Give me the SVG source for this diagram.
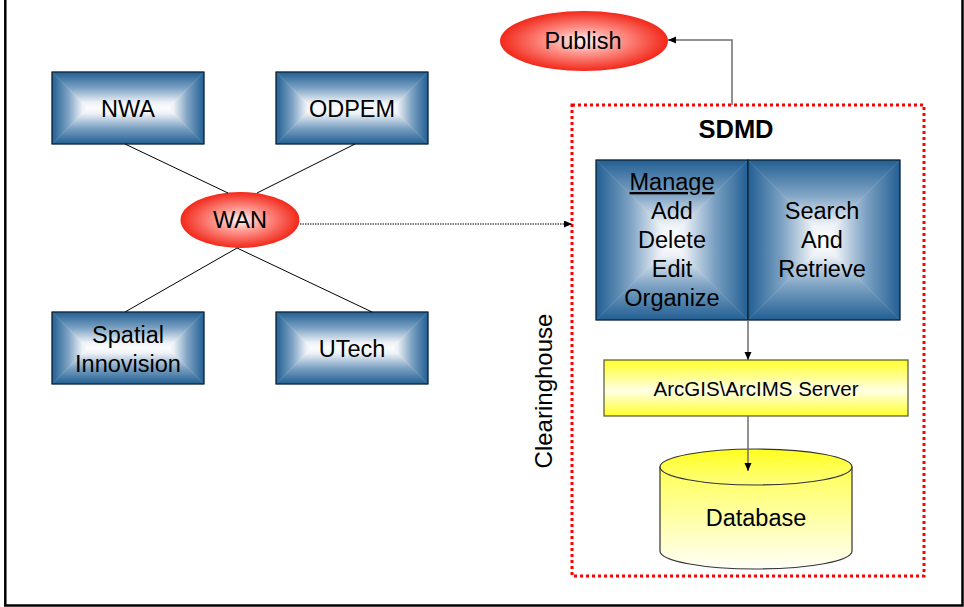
<svg xmlns="http://www.w3.org/2000/svg" width="964" height="607" viewBox="0 0 964 607">
<defs>
<linearGradient id="gT" x1="0" y1="0" x2="0" y2="1"><stop offset="0" stop-color="#225f93"/><stop offset="0.45" stop-color="#7da2c3"/><stop offset="0.85" stop-color="#eef2f7"/><stop offset="1" stop-color="#fbfcfd"/></linearGradient>
<linearGradient id="gB" x1="0" y1="1" x2="0" y2="0"><stop offset="0" stop-color="#225f93"/><stop offset="0.45" stop-color="#7da2c3"/><stop offset="0.85" stop-color="#eef2f7"/><stop offset="1" stop-color="#fbfcfd"/></linearGradient>
<linearGradient id="gL" x1="0" y1="0" x2="1" y2="0"><stop offset="0" stop-color="#225f93"/><stop offset="0.45" stop-color="#7da2c3"/><stop offset="0.85" stop-color="#eef2f7"/><stop offset="1" stop-color="#fbfcfd"/></linearGradient>
<linearGradient id="gR" x1="1" y1="0" x2="0" y2="0"><stop offset="0" stop-color="#225f93"/><stop offset="0.45" stop-color="#7da2c3"/><stop offset="0.85" stop-color="#eef2f7"/><stop offset="1" stop-color="#fbfcfd"/></linearGradient>
<radialGradient id="gRed" cx="0.5" cy="0.5" r="0.5"><stop offset="0" stop-color="#fff6f6"/><stop offset="0.4" stop-color="#ff9a92"/><stop offset="1" stop-color="#f2281a"/></radialGradient>
<linearGradient id="gYel" x1="0" y1="0" x2="0" y2="1"><stop offset="0" stop-color="#ffff2a"/><stop offset="0.55" stop-color="#ffffe6"/><stop offset="1" stop-color="#ffff2a"/></linearGradient>
<linearGradient id="gDbBody" x1="0" y1="0" x2="0" y2="1"><stop offset="0" stop-color="#ffff55"/><stop offset="1" stop-color="#fffff8"/></linearGradient>
<linearGradient id="gDbTop" x1="0" y1="0" x2="0" y2="1"><stop offset="0" stop-color="#ffff1e"/><stop offset="1" stop-color="#ffff80"/></linearGradient>
<marker id="arr" markerUnits="userSpaceOnUse" markerWidth="9" markerHeight="8" refX="8" refY="3.5" orient="auto"><path d="M0,0 L8,3.5 L0,7 z" fill="#000"/></marker>
</defs>
<style>
.pT{fill:url(#gT);stroke:url(#gT);stroke-width:0.4}
.pB{fill:url(#gB);stroke:url(#gB);stroke-width:0.4}
.pL{fill:url(#gL);stroke:url(#gL);stroke-width:0.4}
.pR{fill:url(#gR);stroke:url(#gR);stroke-width:0.4}
.ol{fill:none;stroke:#0d1e30;stroke-width:1.2}
.lbl{font-family:"Liberation Sans",Arial,sans-serif;font-size:23.5px;fill:#000;text-anchor:middle}
.ln{stroke:#000;stroke-width:1;fill:none}
.gl{stroke:#6e6e6e;stroke-width:1.5;fill:none}
</style>
<path d="M5.3,-5 V605.5 H962.5 V-5" fill="none" stroke="#000" stroke-width="2.5"/>

<g id="clearinghouse">
<rect x="572" y="105" width="352" height="471" fill="none" stroke="#ff0000" stroke-width="3" stroke-dasharray="3 3"/>
<text class="lbl" x="736" y="138" style="font-weight:bold;font-size:25.5px">SDMD</text>
<text class="lbl" transform="translate(552,391) rotate(-90)" style="font-size:24px">Clearinghouse</text>
</g>

<g id="nwa">
<polygon class="pT" points="52,72 204,72 168,108 88,108"/>
<polygon class="pB" points="52,144 204,144 168,108 88,108"/>
<polygon class="pL" points="52,72 88,108 52,144"/>
<polygon class="pR" points="204,72 168,108 204,144"/>
<rect class="ol" x="52" y="72" width="152" height="72"/>
<text class="lbl" x="128" y="117">NWA</text>
</g>

<g id="odpem">
<polygon class="pT" points="276,72 428,72 392,108 312,108"/>
<polygon class="pB" points="276,144 428,144 392,108 312,108"/>
<polygon class="pL" points="276,72 312,108 276,144"/>
<polygon class="pR" points="428,72 392,108 428,144"/>
<rect class="ol" x="276" y="72" width="152" height="72"/>
<text class="lbl" x="352" y="117">ODPEM</text>
</g>

<g id="spatial">
<polygon class="pT" points="52,312 204,312 168,348 88,348"/>
<polygon class="pB" points="52,384 204,384 168,348 88,348"/>
<polygon class="pL" points="52,312 88,348 52,384"/>
<polygon class="pR" points="204,312 168,348 204,384"/>
<rect class="ol" x="52" y="312" width="152" height="72"/>
<text class="lbl" x="128" y="343">Spatial</text>
<text class="lbl" x="128" y="372">Innovision</text>
</g>

<g id="utech">
<polygon class="pT" points="276,312 428,312 392,348 312,348"/>
<polygon class="pB" points="276,384 428,384 392,348 312,348"/>
<polygon class="pL" points="276,312 312,348 276,384"/>
<polygon class="pR" points="428,312 392,348 428,384"/>
<rect class="ol" x="276" y="312" width="152" height="72"/>
<text class="lbl" x="352" y="357">UTech</text>
</g>

<g id="wan">
<ellipse cx="240" cy="220" rx="59.5" ry="28" fill="url(#gRed)"/>
<text class="lbl" x="240" y="228">WAN</text>
</g>

<g id="publish">
<ellipse cx="584" cy="41" rx="84" ry="30" fill="url(#gRed)"/>
<text class="lbl" x="583" y="49">Publish</text>
</g>

<g id="manage">
<polygon class="pT" points="596,160 748,160 672,236"/>
<polygon class="pB" points="596,320 748,320 672,244"/>
<polygon class="pL" points="596,160 672,236 672,244 596,320"/>
<polygon class="pR" points="748,160 672,236 672,244 748,320"/>
<rect class="ol" x="596" y="160" width="152" height="160"/>
<text class="lbl" x="672" y="190" text-decoration="underline">Manage</text>
<text class="lbl" x="672" y="219">Add</text>
<text class="lbl" x="672" y="248">Delete</text>
<text class="lbl" x="672" y="277">Edit</text>
<text class="lbl" x="672" y="306">Organize</text>
</g>

<g id="search">
<polygon class="pT" points="748,160 900,160 824,236"/>
<polygon class="pB" points="748,320 900,320 824,244"/>
<polygon class="pL" points="748,160 824,236 824,244 748,320"/>
<polygon class="pR" points="900,160 824,236 824,244 900,320"/>
<rect class="ol" x="748" y="160" width="152" height="160"/>
<text class="lbl" x="822" y="219">Search</text>
<text class="lbl" x="822" y="248">And</text>
<text class="lbl" x="822" y="277">Retrieve</text>
</g>

<g id="server">
<rect x="604" y="360" width="304" height="56" fill="url(#gYel)" stroke="#555533" stroke-width="1.2"/>
<text class="lbl" x="756" y="396" style="font-size:20.5px">ArcGIS\ArcIMS Server</text>
</g>

<g id="database">
<path d="M660,467 V551 A96,18 0 0 0 852,551 V467 Z" fill="url(#gDbBody)" stroke="#333" stroke-width="1.2"/>
<ellipse cx="756" cy="467" rx="96" ry="18" fill="url(#gDbTop)" stroke="#333" stroke-width="1.2"/>
<text class="lbl" x="756" y="526">Database</text>
</g>

<g id="connectors">
<path class="ln" d="M125,144 L228,193"/>
<path class="ln" d="M355,144 L257,193"/>
<path class="ln" d="M125,312 L237,248"/>
<path class="ln" d="M372,312 L237,248"/>
<path d="M300,224 H572" stroke="#000" stroke-width="1" stroke-dasharray="1.5 1" fill="none" marker-end="url(#arr)"/>
<path class="gl" d="M732,105 V40 H668" marker-end="url(#arr)"/>
<path class="gl" d="M748,320 V360" marker-end="url(#arr)"/>
<path class="gl" d="M748,416 V471" marker-end="url(#arr)"/>
</g>
</svg>
